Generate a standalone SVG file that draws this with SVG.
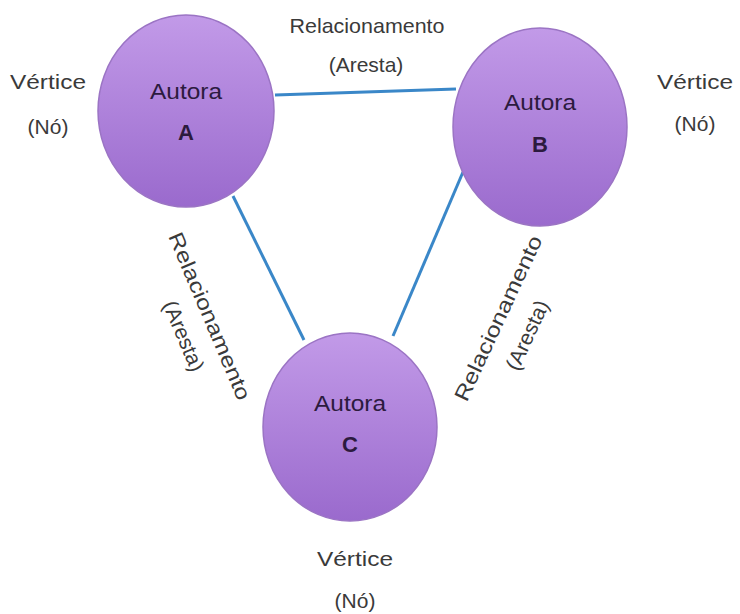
<svg xmlns="http://www.w3.org/2000/svg" width="740" height="614" viewBox="0 0 740 614">
<defs>
<linearGradient id="g" x1="0" y1="0" x2="0" y2="1">
<stop offset="0" stop-color="#c29ae8"/>
<stop offset="1" stop-color="#9a6acd"/>
</linearGradient>
<style>
.node{fill:url(#g);stroke:#9b74c4;stroke-width:1.5}
.t{font-family:"Liberation Sans",Arial,sans-serif;font-size:22px;fill:#2c1a3e;text-anchor:middle}
.b{font-weight:bold}
.lbl{font-family:"Liberation Sans",Arial,sans-serif;font-size:21px;fill:#3a3a3a;text-anchor:middle}
.edge{stroke:#3a87c8;stroke-width:3;fill:none}
</style>
</defs>
<rect width="740" height="614" fill="#fff"/>
<g id="edges">
<line class="edge" x1="275" y1="95" x2="456" y2="89"/>
<line class="edge" x1="233" y1="196" x2="304" y2="340"/>
<line class="edge" x1="463" y1="172" x2="393" y2="336"/>
</g>
<g id="nodeA">
<ellipse class="node" cx="186" cy="111" rx="88" ry="96"/>
<text class="t" x="186" y="99" textLength="72" lengthAdjust="spacingAndGlyphs">Autora</text>
<text class="t b" x="186" y="140">A</text>
</g>
<g id="nodeB">
<ellipse class="node" cx="540" cy="127" rx="87" ry="99"/>
<text class="t" x="540" y="110" textLength="72" lengthAdjust="spacingAndGlyphs">Autora</text>
<text class="t b" x="540" y="152">B</text>
</g>
<g id="nodeC">
<ellipse class="node" cx="350" cy="427" rx="87" ry="94"/>
<text class="t" x="350" y="411" textLength="72" lengthAdjust="spacingAndGlyphs">Autora</text>
<text class="t b" x="350" y="452">C</text>
</g>
<g id="labels">
<text class="lbl" x="48" y="89" textLength="76" lengthAdjust="spacingAndGlyphs">Vértice</text>
<text class="lbl" x="48" y="134">(Nó)</text>
<text class="lbl" x="695" y="89" textLength="76" lengthAdjust="spacingAndGlyphs">Vértice</text>
<text class="lbl" x="695" y="131">(Nó)</text>
<text class="lbl" x="355" y="566" textLength="76" lengthAdjust="spacingAndGlyphs">Vértice</text>
<text class="lbl" x="355" y="608">(Nó)</text>
<text class="lbl" x="367" y="33" textLength="155" lengthAdjust="spacingAndGlyphs">Relacionamento</text>
<text class="lbl" x="366" y="72">(Aresta)</text>
<text class="lbl" transform="translate(210,316) rotate(67)" dominant-baseline="central" textLength="180" lengthAdjust="spacingAndGlyphs">Relacionamento</text>
<text class="lbl" transform="translate(184,336) rotate(67)" dominant-baseline="central">(Aresta)</text>
<text class="lbl" transform="translate(498,318) rotate(-65)" dominant-baseline="central" textLength="180" lengthAdjust="spacingAndGlyphs">Relacionamento</text>
<text class="lbl" transform="translate(527,335) rotate(-65)" dominant-baseline="central">(Aresta)</text>
</g>
</svg>
